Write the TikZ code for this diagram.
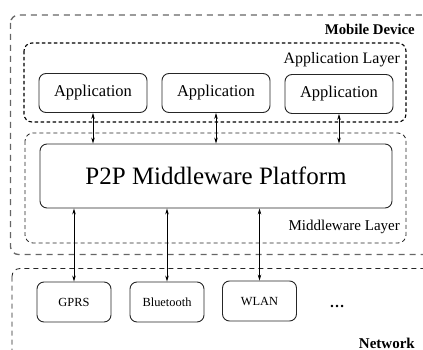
\documentclass[tikz,border=0pt]{standalone}
\usepackage{fontspec}
\setmainfont{Liberation Serif}
\usetikzlibrary{arrows.meta}

\begin{document}
\begin{tikzpicture}[x=1pt,y=-1pt,
    box/.style={draw=black!85,line width=0.9pt,rounded corners=7pt,inner sep=0pt},
    appbox/.style={box,minimum width=108pt,minimum height=39pt,font=\fontsize{16.5}{18}\selectfont},
    netbox/.style={box,minimum width=74pt,minimum height=40pt,font=\fontsize{12.4}{14}\selectfont},
    tag/.style={anchor=east,inner sep=0pt,font=\fontsize{15}{17}\selectfont},
    link/.style={{Stealth[length=6pt,width=3.5pt]}-{Stealth[length=6pt,width=3.5pt]},line width=0.7pt}]
  \clip (0,0) rectangle (423,350);
  % device and network frames
  \draw[black!60,line width=1.3pt,dash pattern=on 6pt off 5pt,rounded corners=8pt] (10.5,15) rectangle (470,254.5);
  \draw[black!85,line width=0.8pt,dash pattern=on 5pt off 4pt,rounded corners=8pt] (12,268.5) rectangle (470,400);
  % the two layers
  \draw[line width=1.1pt,dash pattern=on 3.5pt off 2.5pt,rounded corners=8pt] (24,43) rectangle (406,122);
  \draw[black!85,line width=0.8pt,dash pattern=on 4pt off 3pt,rounded corners=8pt] (25,133) rectangle (406,243);
  \node[tag,font=\fontsize{14.8}{17}\selectfont\bfseries] (device) at (415,29) {Mobile Device};
  \node[tag,font=\fontsize{15.9}{18}\selectfont] (applayer) at (400,60) {Application Layer};
  \node[tag] (mwlayer) at (400,227) {Middleware Layer};
  \node[tag,font=\fontsize{15}{17}\selectfont\bfseries] (network) at (415,343) {Network};
  % boxes
  \node[appbox] (app1) at (93,93) {Application};
  \node[appbox] (app2) at (216,93) {Application};
  \node[appbox] (app3) at (339,94) {Application};
  \node[box,minimum width=352pt,minimum height=64pt,font=\fontsize{25}{28}\selectfont] (p2p) at (216,176) {P2P Middleware Platform};
  \node[netbox] (gprs) at (74,302) {GPRS};
  \node[netbox] (bt) at (167,302) {Bluetooth};
  \node[netbox] (wlan) at (259.5,301) {WLAN};
  \node[font=\fontsize{15}{17}\selectfont\bfseries] (more) at (337,306) {\ldots};
  % links
  \foreach \n in {app1,app2,app3}
    \draw[link] (\n.south) -- (\n.south |- p2p.north);
  \foreach \n in {gprs,bt,wlan}
    \draw[link] (\n.north |- p2p.south) -- (\n.north);
\end{tikzpicture}
\end{document}
